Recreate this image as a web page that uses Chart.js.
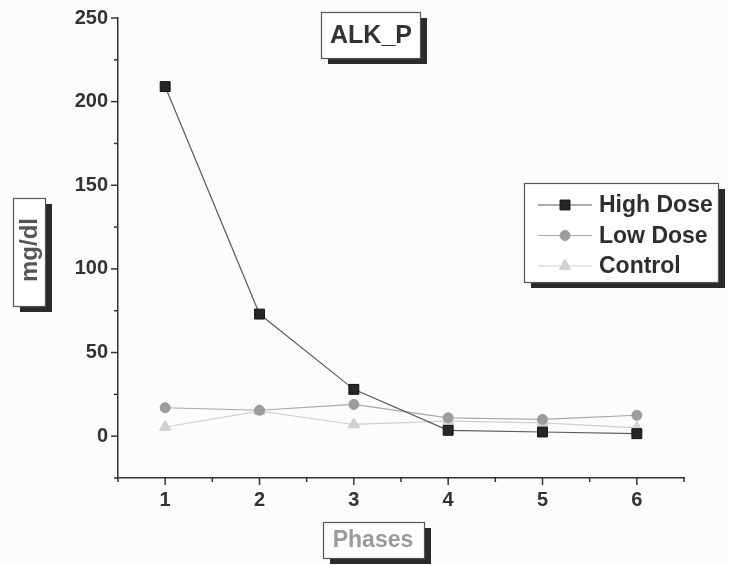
<!DOCTYPE html>
<html>
<head>
<meta charset="utf-8">
<script src="https://cdn.jsdelivr.net/npm/chart.js@4"></script>
<style>
body{margin:0;background:#fbfcfc;}
canvas{display:block;}
</style>
</head>
<body>
<canvas id="alk_chart" width="729" height="565"></canvas>
<script>
var phases=[1,2,3,4,5,6];
var high_dose=[209,73,28,3.5,2.5,1.5];
var low_dose=[17,15.5,19,11,10,12.5];
var control=[5.5,15,7,9,8,5];
var series_names=["High Dose","Low Dose","Control"];
var chart_title="ALK_P";
var y_title="mg/dl";
var x_title="Phases";

var FONT="'Liberation Sans', Arial, sans-serif";

function ToPoints(vals){
    let pts=[];
    for(let i=0;i<phases.length;i++){
        pts.push({x:phases[i],y:vals[i]});
    }
    return pts;
}
//***************************************************************************** */
function ShadowBox(ctx,x,y,w,h){
    ctx.fillStyle='#2b2b2b';
    ctx.fillRect(x+7,y+6,w,h);
    ctx.fillStyle='#ffffff';
    ctx.fillRect(x,y,w,h);
    ctx.strokeStyle='#555';
    ctx.lineWidth=1.2;
    ctx.strokeRect(x+0.5,y+0.5,w,h);
}
//***************************************************************************** */
var tickPlugin={
    id:'tick_marks',
    afterDraw(chart){
        const ctx=chart.ctx;
        const xs=chart.scales.x, ys=chart.scales.y;
        ctx.save();
        ctx.strokeStyle='#333';
        ctx.lineWidth=1.5;
        for(let t of ys.ticks){
            let py=ys.getPixelForValue(t.value);
            let len=(t.value%50===0)?7:4;
            ctx.beginPath();
            ctx.moveTo(xs.left,py);
            ctx.lineTo(xs.left-len,py);
            ctx.stroke();
        }
        for(let t of xs.ticks){
            let px=xs.getPixelForValue(t.value);
            let len=Number.isInteger(t.value)?7:4;
            ctx.beginPath();
            ctx.moveTo(px,ys.bottom);
            ctx.lineTo(px,ys.bottom+len);
            ctx.stroke();
        }
        ctx.restore();
    }
};
//***************************************************************************** */
var boxPlugin={
    id:'label_boxes',
    afterDraw(chart){
        const ctx=chart.ctx;
        ctx.save();
        // title
        ShadowBox(ctx,321,12,99,46);
        ctx.fillStyle='#333';
        ctx.font='bold 25px '+FONT;
        ctx.textAlign='center';
        ctx.textBaseline='middle';
        ctx.fillText(chart_title,371,36);
        // y title
        ShadowBox(ctx,13,198,32,108);
        ctx.save();
        ctx.translate(30,250);
        ctx.rotate(-Math.PI/2);
        ctx.fillStyle='#555';
        ctx.font='bold 24px '+FONT;
        ctx.fillText(y_title,0,0);
        ctx.restore();
        // x title
        ShadowBox(ctx,323,522,101,36);
        ctx.fillStyle='#9a9a9a';
        ctx.font='bold 23px '+FONT;
        ctx.fillText(x_title,373,541);
        // legend
        ShadowBox(ctx,524,183,194,99);
        const ds=chart.data.datasets;
        for(let i=0;i<ds.length;i++){
            let ry=205+i*30.5;
            ctx.strokeStyle=ds[i].borderColor;
            ctx.lineWidth=1.2;
            ctx.beginPath();
            ctx.moveTo(538,ry);
            ctx.lineTo(592,ry);
            ctx.stroke();
            ctx.fillStyle=ds[i].pointBackgroundColor;
            ctx.strokeStyle=ds[i].pointBorderColor;
            ctx.lineWidth=1;
            Chart.helpers.drawPoint(ctx,{pointStyle:ds[i].pointStyle,radius:ds[i].pointRadius,borderWidth:1,rotation:0},565,ry);
            ctx.fillStyle='#2e2e2e';
            ctx.font='bold 23px '+FONT;
            ctx.textAlign='left';
            ctx.fillText(ds[i].label,599,ry+1);
        }
        ctx.restore();
    }
};
//***************************************************************************** */
function InitChart(){
    new Chart("alk_chart",{
        type:"line",
        data:{
            datasets:[
                {
                    label:series_names[0],
                    data:ToPoints(high_dose),
                    borderColor:'#5a5a5a',
                    borderWidth:1.2,
                    pointStyle:'rect',
                    pointRadius:7,
                    pointBackgroundColor:'#262626',
                    pointBorderColor:'#111',
                    pointBorderWidth:1,
                },
                {
                    label:series_names[1],
                    data:ToPoints(low_dose),
                    borderColor:'#a8a8a8',
                    borderWidth:1.2,
                    pointStyle:'circle',
                    pointRadius:5,
                    pointBackgroundColor:'#9c9c9c',
                    pointBorderColor:'#999',
                    pointBorderWidth:1,
                },
                {
                    label:series_names[2],
                    data:ToPoints(control),
                    borderColor:'#cdd2d2',
                    borderWidth:1.2,
                    pointStyle:'triangle',
                    pointRadius:6.5,
                    pointBackgroundColor:'#cfd3d3',
                    pointBorderColor:'#c8cccc',
                    pointBorderWidth:1,
                },
            ],
        },
        options:{
            responsive:false,
            animation:false,
            layout:{padding:{top:18,right:45,left:0,bottom:0}},
            scales:{
                x:{
                    type:'linear',
                    min:0.5,max:6.5,
                    afterFit(scale){scale.height=87;scale.paddingLeft=0;scale.paddingRight=0;},
                    grid:{display:false,drawTicks:false},
                    border:{display:true,color:'#333',width:1.5},
                    ticks:{
                        stepSize:0.5,
                        padding:10,
                        autoSkip:false,
                        maxRotation:0,
                        color:'#333',
                        font:{family:FONT,size:20,weight:'bold'},
                        callback:(v)=>Number.isInteger(v)?v:'',
                    },
                },
                y:{
                    min:-25,max:250,
                    afterFit(scale){scale.width=118;scale.paddingTop=0;scale.paddingBottom=0;},
                    grid:{display:false,drawTicks:false},
                    border:{display:true,color:'#333',width:1.5},
                    ticks:{
                        stepSize:25,
                        padding:10,
                        autoSkip:false,
                        color:'#333',
                        font:{family:FONT,size:20,weight:'bold'},
                        callback:(v)=>(v%50===0)?v:'',
                    },
                },
            },
            plugins:{legend:{display:false},tooltip:{enabled:false}},
        },
        plugins:[tickPlugin,boxPlugin],
    });
}
InitChart();
</script>
</body>
</html>
